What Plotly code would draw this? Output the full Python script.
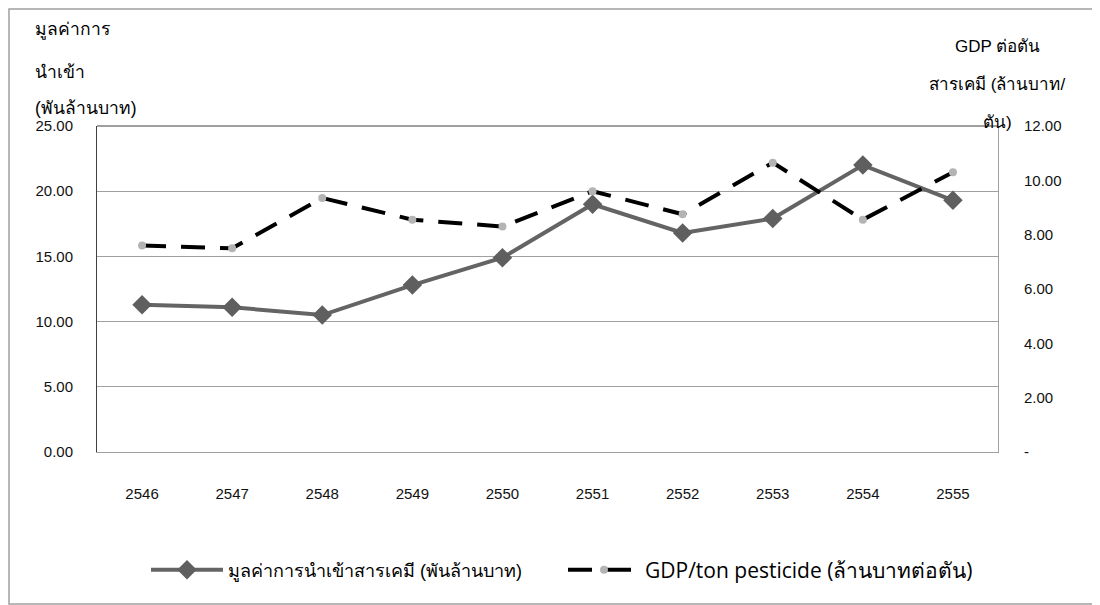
import plotly.graph_objects as go

years = ["2546", "2547", "2548", "2549", "2550", "2551", "2552", "2553", "2554", "2555"]
import_value = [11.3, 11.1, 10.5, 12.8, 14.9, 19.0, 16.8, 17.9, 22.0, 19.3]
gdp_per_ton = [7.6, 7.5, 9.35, 8.55, 8.3, 9.6, 8.75, 10.65, 8.55, 10.3]

left_ticks = [0, 5, 10, 15, 20, 25]
left_labels = ["0.00", "5.00", "10.00", "15.00", "20.00", "25.00"]
right_ticks = [0, 2, 4, 6, 8, 10, 12]
right_labels = ["-", "2.00", "4.00", "6.00", "8.00", "10.00", "12.00"]

name1 = "มูลค่าการนำเข้าสารเคมี (พันล้านบาท)"
name2 = "GDP/ton pesticide (ล้านบาทต่อตัน)"

FONT = "Liberation Sans, Arial, sans-serif"
TICKFONT = dict(size=15, family="Liberation Sans Narrow, Arial Narrow, Liberation Sans, sans-serif",
                color="#111111")

fig = go.Figure()
fig.add_trace(go.Scatter(
    x=years, y=import_value, name=name1, mode="lines+markers",
    line=dict(color="#646464", width=4),
    marker=dict(symbol="diamond", size=15, color="#5f5f5f"),
    legend="legend", yaxis="y"))
fig.add_trace(go.Scatter(
    x=years, y=gdp_per_ton, name=name2, mode="lines+markers",
    line=dict(color="#000000", width=4, dash="24px,15px"),
    marker=dict(symbol="circle", size=8, color="#b4b4b4"),
    legend="legend2", yaxis="y2"))

OFF = 8  # page body margin
W, H = 1100 - OFF, 605 - OFF
PL, PR, PT, PB = 97, 998, 126, 452  # plot area in page pixels
L, T = PL - OFF, PT - OFF
R = W - (PR - OFF)
B = H - (PB - OFF)
pw = PR - PL
ph = PB - PT

def px(x):
    return (x - PL) / pw

def py(y):
    return (PB - y) / ph

fig.update_layout(
    width=W, height=H,
    margin=dict(l=L, r=R, t=T, b=B, autoexpand=False),
    paper_bgcolor="white", plot_bgcolor="white",
    font=dict(family=FONT, size=13, color="#000000"),
    xaxis=dict(type="category", range=[-0.5, 9.5], showgrid=False,
               showline=True, linecolor="#a0a0a0", linewidth=1,
               ticks="", ticklabelstandoff=28, tickfont=TICKFONT),
    yaxis=dict(range=[0, 25], tickvals=left_ticks, ticktext=left_labels,
               showgrid=True, gridcolor="#a0a0a0", gridwidth=1,
               showline=True, linecolor="#404040", linewidth=1,
               ticks="", ticklabelstandoff=20, zeroline=False,
               tickfont=TICKFONT),
    yaxis2=dict(range=[0, 12], tickvals=right_ticks, ticktext=right_labels,
                overlaying="y", side="right", showgrid=False,
                showline=True, linecolor="#a0a0a0", linewidth=1,
                ticks="", ticklabelstandoff=22, zeroline=False,
                tickfont=TICKFONT),
    legend=dict(orientation="h", x=px(146), y=py(570), xanchor="left", yanchor="middle",
                itemwidth=72,
                font=dict(size=18), bgcolor="rgba(0,0,0,0)"),
    legend2=dict(orientation="h", x=px(563), y=py(570), xanchor="left", yanchor="middle",
                 itemwidth=72,
                 font=dict(size=21, family="Open Sans, sans-serif"), bgcolor="rgba(0,0,0,0)"),
    showlegend=True,
)

# top border of plot area
fig.add_shape(type="line", xref="paper", yref="paper", x0=0, x1=1, y0=1, y1=1,
              line=dict(color="#404040", width=1))
# outer chart frame
fig.add_shape(type="rect", xref="paper", yref="paper",
              x0=px(9), x1=px(1099), y0=py(604), y1=py(9),
              line=dict(color="#a0a0a0", width=1.5), layer="below")

left_title = [("มูลค่าการ", 30), ("นำเข้า", 72), ("(พันล้านบาท)", 108)]
for txt, yy in left_title:
    fig.add_annotation(text=txt, xref="paper", yref="paper", x=px(33), y=py(yy),
                       xanchor="left", yanchor="middle", showarrow=False,
                       font=dict(size=17.5))
right_title = [("GDP ต่อตัน", 46), ("สารเคมี (ล้านบาท/", 84), ("ตัน)", 122)]
for txt, yy in right_title:
    fig.add_annotation(text=txt, xref="paper", yref="paper", x=px(997), y=py(yy),
                       xanchor="center", yanchor="middle", showarrow=False,
                       font=dict(size=17))

fig.write_html("out.html")
